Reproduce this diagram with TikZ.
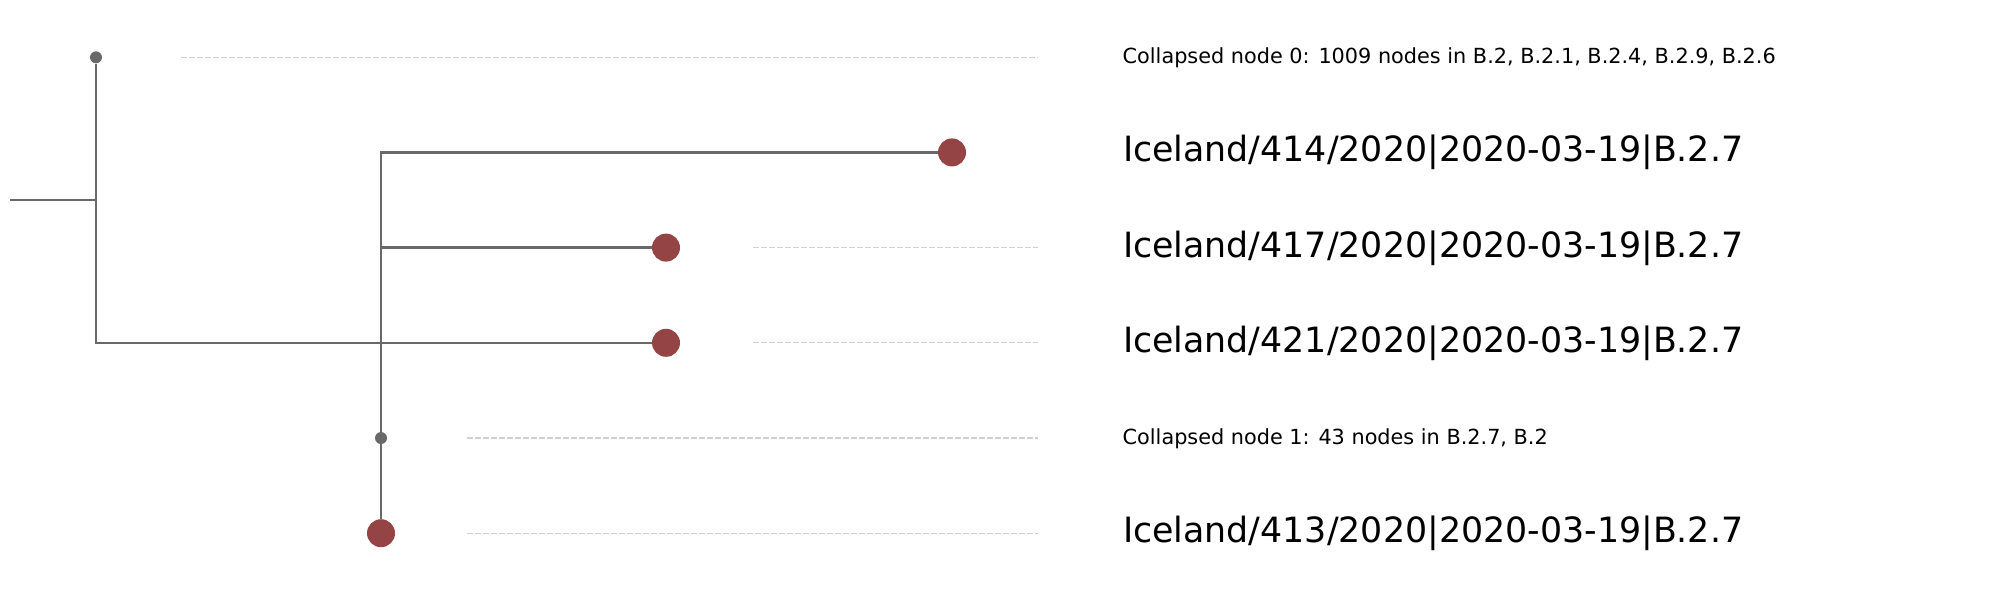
\documentclass[tikz,border=0pt]{standalone}
\usepackage{fontspec}
\setmainfont{DejaVu Sans}
\definecolor{branchgray}{RGB}{105,105,105}
\definecolor{leafred}{RGB}{148,68,68}
\definecolor{guidegray}{RGB}{208,208,208}
\begin{document}
\begin{tikzpicture}[x=0.5pt,y=-0.5pt,
  branch/.style={draw=branchgray, line width=1.2pt},
  leafdot/.style={circle, fill=leafred, minimum size=14pt, inner sep=0pt},
  collapsedot/.style={circle, fill=branchgray, minimum size=6pt, inner sep=0pt},
  guide/.style={draw=guidegray, line width=0.6pt, dash pattern=on 2.75pt off 1.25pt},
  biglabel/.style={anchor=base west, inner sep=0pt, font=\fontsize{17.4}{20}\selectfont},
  smalllabel/.style={anchor=base west, inner sep=0pt, font=\fontsize{10.4}{12.5}\selectfont}]
\useasboundingbox (0,0) rectangle (1990,590);

% tree nodes
\coordinate (root) at (10,200);
\coordinate (A) at (96,200);
\coordinate (B) at (381,342.8);
\node[collapsedot] (c0) at (96,57.3) {};
\node[leafdot] (l414) at (952,152.4) {};
\node[leafdot] (l417) at (666,247.6) {};
\node[leafdot] (l421) at (666,342.8) {};
\node[collapsedot] (c1) at (381,438) {};
\node[leafdot] (l413) at (381,533.2) {};

% branches
\draw[branch] (root) -- (A);
\draw[branch] (c0) |- (B);
\draw[branch] (B) -- (l421);
\draw[branch] (l414) -| (B);
\draw[branch] (l417) -| (B);
\draw[branch] (B) -- (c1);
\draw[branch] (c1) -- (l413);

% guide lines
\coordinate (g0s) at (181,57.3);  \coordinate (g0e) at (1038,57.3);
\coordinate (g2s) at (753,247.6); \coordinate (g2e) at (1038,247.6);
\coordinate (g3s) at (753,342.8); \coordinate (g3e) at (1038,342.8);
\coordinate (g4s) at (467,438);   \coordinate (g4e) at (1038,438);
\coordinate (g5s) at (467,533.2); \coordinate (g5e) at (1038,533.2);
\draw[guide] (g0s) -- (g0e);
\draw[guide] (g2s) -- (g2e);
\draw[guide] (g3s) -- (g3e);
\draw[guide] (g4s) -- (g4e);
\draw[guide] (g5s) -- (g5e);

% labels
\node[smalllabel] (t0) at (1122.3,63.6) {Collapsed node 0: 1009 nodes in B.2, B.2.1, B.2.4, B.2.9, B.2.6};
\node[biglabel] (t1) at (1122.6,161.9) {Iceland/414/2020|2020-03-19|B.2.7};
\node[biglabel] (t2) at (1122.6,257.1) {Iceland/417/2020|2020-03-19|B.2.7};
\node[biglabel] (t3) at (1122.6,352.3) {Iceland/421/2020|2020-03-19|B.2.7};
\node[smalllabel] (t4) at (1122.3,444.3) {Collapsed node 1: 43 nodes in B.2.7, B.2};
\node[biglabel] (t5) at (1122.6,542.7) {Iceland/413/2020|2020-03-19|B.2.7};
\end{tikzpicture}
\end{document}
